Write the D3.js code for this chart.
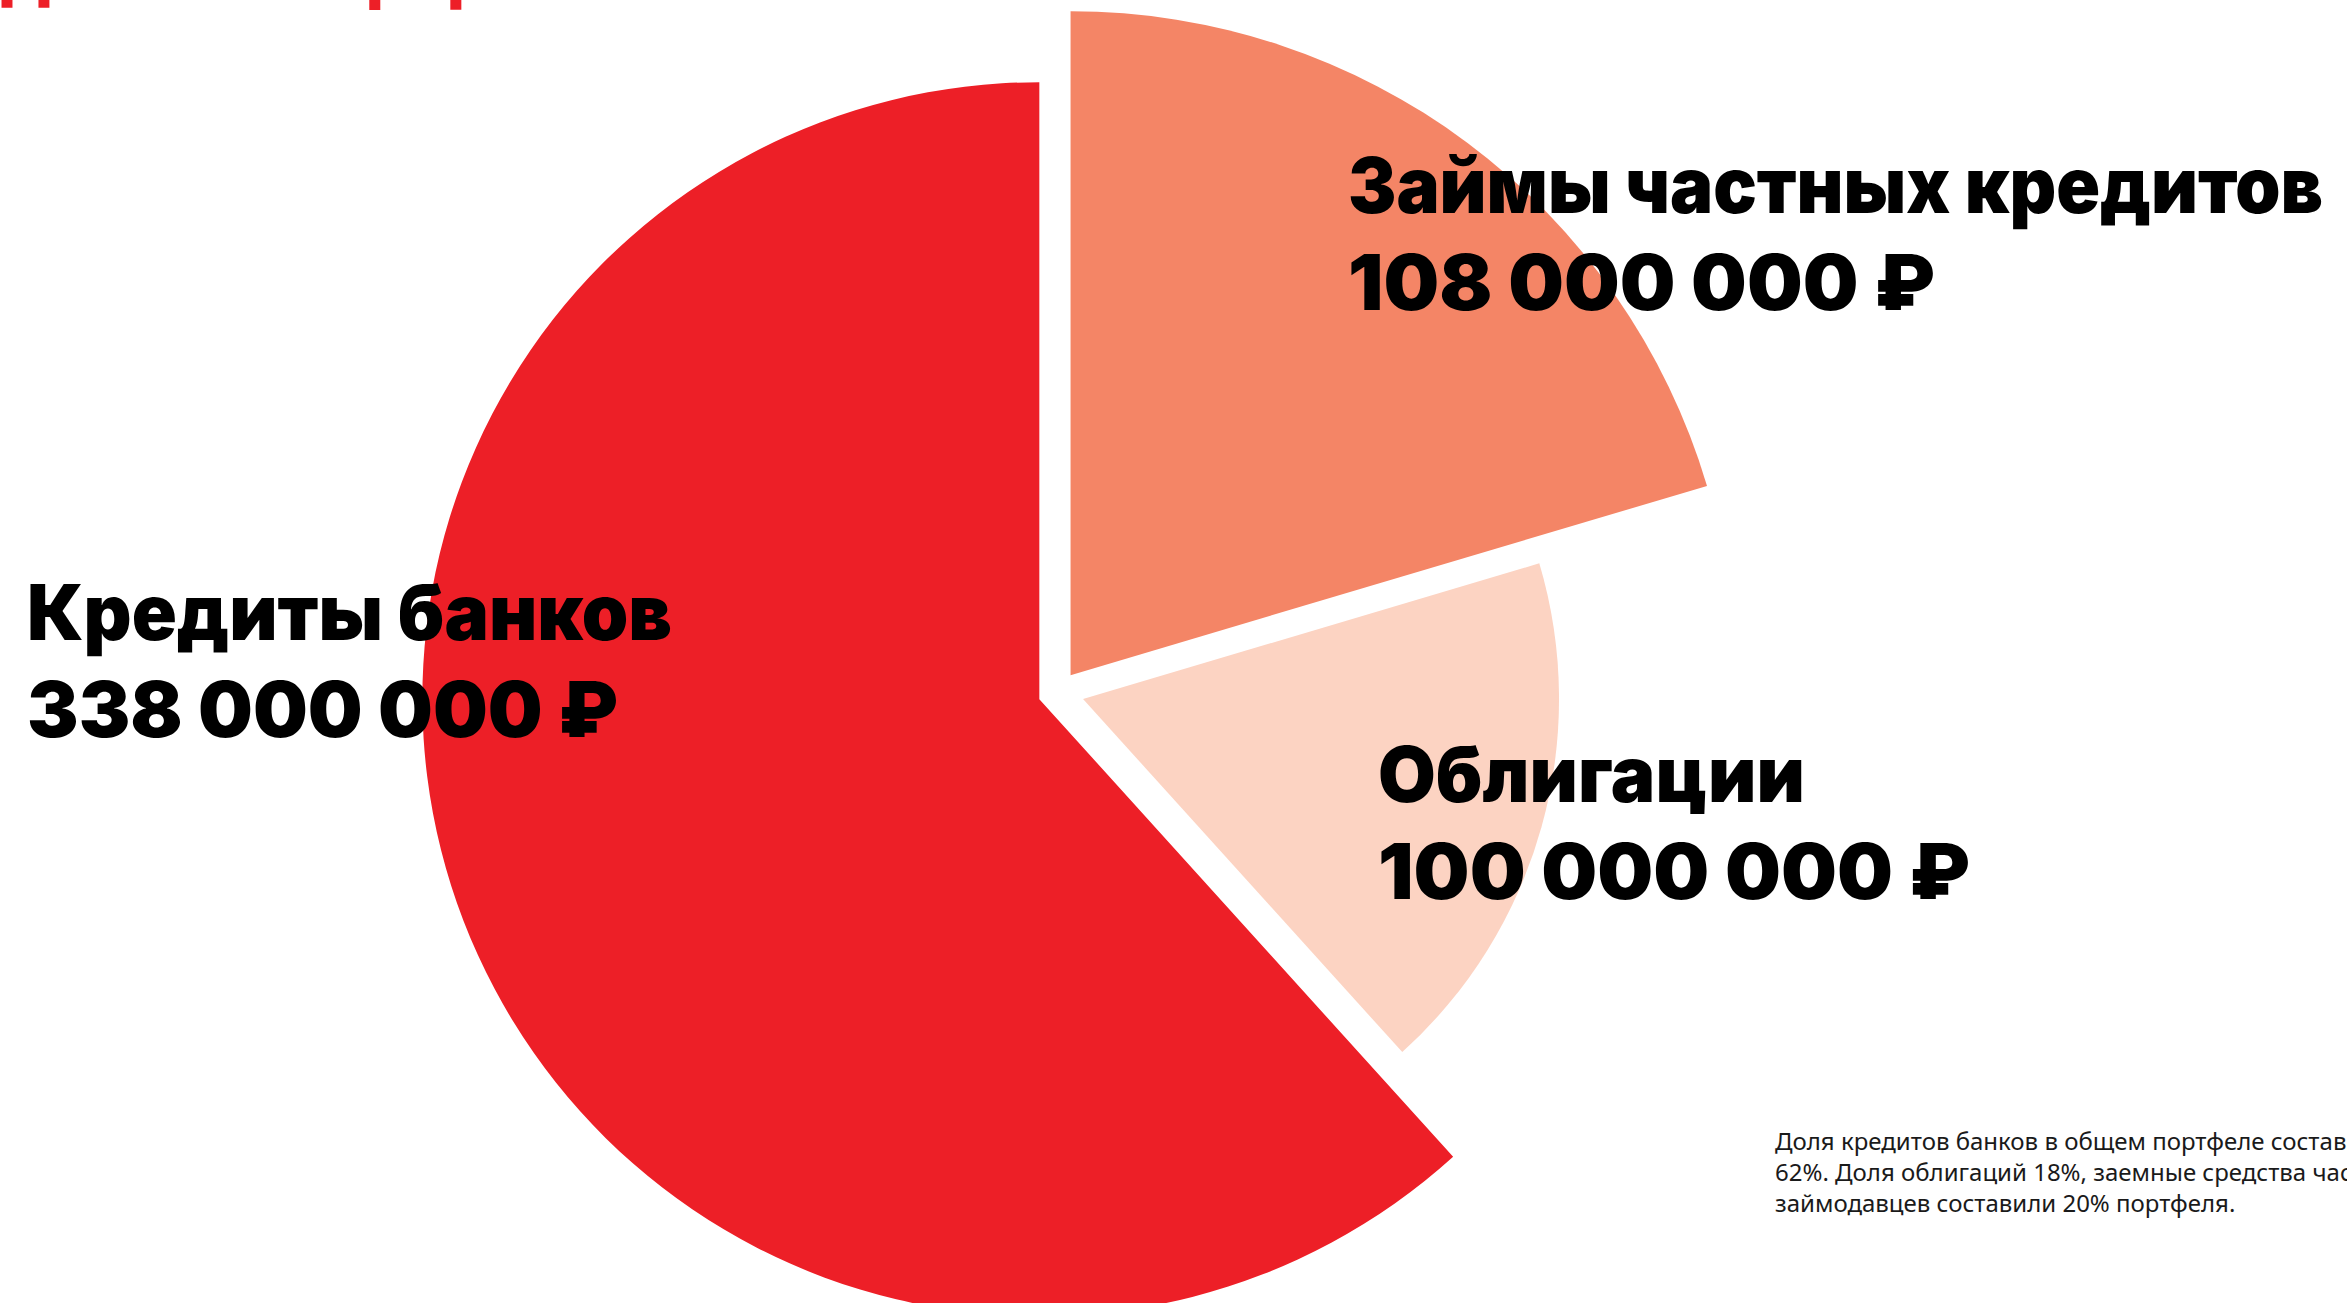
<!DOCTYPE html>
<html>
<head>
  <meta charset="UTF-8">
  <title>Структура долгового портфеля</title>
  <script src="https://d3js.org/d3.v7.min.js"></script>
  <style>
    body {
      margin: 0;
      padding: 0;
      background-color: #ffffff;
      overflow: hidden;
    }
    .big-label {
      font-family: 'Inter', 'Roboto', 'DejaVu Sans', sans-serif;
      font-weight: 900;
      font-size: 77px;
      fill: #000;
    }
    .note {
      font-family: 'Noto Sans', 'DejaVu Sans', sans-serif;
      font-size: 24px;
      fill: #1a1a1a;
    }
  </style>
</head>
<body>
  <svg id="chart"></svg>
  <script>
    // data
    const categories = ["Займы частных кредитов", "Облигации", "Кредиты банков"];
    const amounts = [108000000, 100000000, 338000000];
    const shares = [20.4, 17.9, 61.7]; // slice shares as drawn, %
    const colors = ["#F48566", "#FCD3C2", "#ED1F27"];
    const noteLines = [
      "Доля кредитов банков в общем портфеле составила",
      "62%. Доля облигаций 18%, заемные средства частных",
      "займодавцев составили 20% портфеля."
    ];
    const title = "Долговой портфель";

    const W = 2347, H = 1303;
    const cx = 1058, cy = 692;
    // per slice: outer radius and how far it is pushed out
    const radius = [664, 476, 617];
    const explode = [21, 26, 20];
    // label anchors (left, first baseline) and line widths
    const labelPos = [[1348, 213], [1378, 802], [27, 640]];
    const nameWidth = [975, 427, 645];
    const amountWidth = [587, 592, 591];

    const rub = d3.formatLocale({ decimal: ",", thousands: " ", grouping: [3], currency: ["", " ₽"] });
    const fmt = rub.format("$,.0f");

    const svg = d3.select("#chart")
      .attr("width", W)
      .attr("height", H);

    svg.append("rect").attr("width", W).attr("height", H).attr("fill", "#fff");

    // title sits above the frame, only its descenders peek in
    svg.append("text")
      .attr("x", 0)
      .attr("y", -1)
      .attr("fill", "#ED1F27")
      .style("font-family", "'Inter', 'Roboto', sans-serif")
      .style("font-weight", 900)
      .style("font-size", "56px")
      .text(title);

    const pie = d3.pie().sort(null).value(d => d.share);
    const rows = categories.map((c, i) => ({ name: c, amount: amounts[i], share: shares[i], i: i }));
    const arcs = pie(rows);

    const g = svg.append("g").attr("transform", `translate(${cx},${cy})`);

    g.selectAll("path")
      .data(arcs)
      .enter().append("path")
      .attr("fill", d => colors[d.data.i])
      .attr("transform", d => {
        const a = (d.startAngle + d.endAngle) / 2;
        const k = explode[d.data.i];
        return `translate(${Math.sin(a) * k},${-Math.cos(a) * k})`;
      })
      .attr("d", d => d3.arc().innerRadius(0).outerRadius(radius[d.data.i])(d));

    const labels = svg.selectAll("g.label")
      .data(rows)
      .enter().append("g")
      .attr("class", "label")
      .attr("transform", d => `translate(${labelPos[d.i][0]},${labelPos[d.i][1]})`);

    labels.append("text")
      .attr("class", "big-label")
      .attr("textLength", d => nameWidth[d.i])
      .attr("lengthAdjust", "spacingAndGlyphs")
      .text(d => d.name);

    labels.append("text")
      .attr("class", "big-label")
      .attr("y", 97)
      .attr("textLength", d => amountWidth[d.i])
      .attr("lengthAdjust", "spacingAndGlyphs")
      .text(d => fmt(d.amount));

    svg.append("text")
      .attr("class", "note")
      .attr("x", 1775)
      .attr("y", 1150)
      .selectAll("tspan")
      .data(noteLines)
      .enter().append("tspan")
      .attr("x", 1775)
      .attr("dy", (d, i) => i === 0 ? 0 : 31)
      .text(d => d);
  </script>
</body>
</html>
